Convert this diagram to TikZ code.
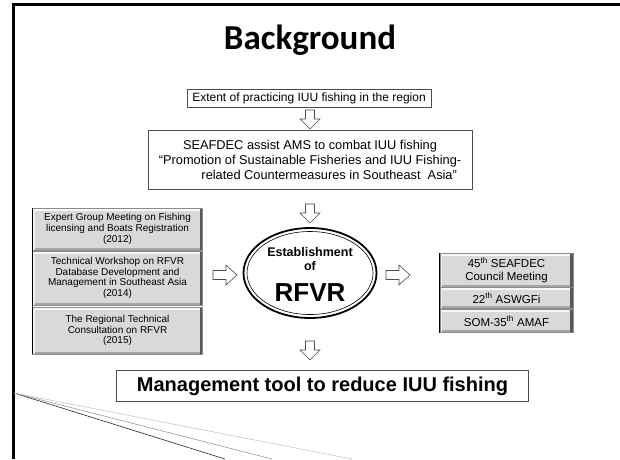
\documentclass[tikz,border=0pt]{standalone}
\usepackage{fontspec}
\setmainfont{Liberation Sans}
\newfontfamily\titlefont{Carlito}
\usetikzlibrary{shapes.geometric}
\definecolor{boxgray}{HTML}{D9D9D9}
\begin{document}
\begin{tikzpicture}[x=1pt,y=-1pt,
  plainbox/.style={draw=black!70, line width=0.6pt, fill=white, inner sep=0pt, align=center},
  bevel/.style={fill=boxgray, draw=black!45, line width=0.5pt, inner sep=0pt, align=center,
    font=\fontsize{10}{10.8}\selectfont,
    path picture={
      \fill[white!80!boxgray] (path picture bounding box.north west) rectangle ([yshift=-2.5pt]path picture bounding box.north east);
      \fill[black!35] ([yshift=2.5pt]path picture bounding box.south west) rectangle (path picture bounding box.south east);
      \fill[black!65] ([xshift=-3pt]path picture bounding box.north east) rectangle (path picture bounding box.south east);
      \fill[white!60!boxgray] (path picture bounding box.north west) rectangle ([xshift=2pt]path picture bounding box.south west);
    }},
  rbevel/.style={bevel, font=\fontsize{11.5}{13}\selectfont},
  downarr/.pic={\draw[black!70, line width=0.6pt, fill=white, line join=miter]
      (-4.5,0) -- (4.5,0) -- (4.5,9) -- (10,9) -- (0,19) -- (-10,9) -- (-4.5,9) -- cycle;},
  rightarr/.pic={\draw[black!70, line width=0.6pt, fill=white, line join=miter]
      (0,-4.5) -- (13,-4.5) -- (13,-10) -- (24,0) -- (13,10) -- (13,4.5) -- (0,4.5) -- cycle;},
  elltext/.style={font=\bfseries\fontsize{12.5}{15}\selectfont, anchor=base, inner sep=0pt}
]
\useasboundingbox (0,0) rectangle (620,459);
\fill[white] (0,0) rectangle (620,459);

% frame
\coordinate (ftr) at (620,4);
\coordinate (ftl) at (13,4);
\coordinate (fbl) at (13,459);
\draw[line width=3pt] (ftr) -- (ftl) -- (fbl);

% decorative lines
\coordinate (o) at (14,393);
\coordinate (e1) at (225,459);
\coordinate (e2) at (272,459);
\coordinate (e3) at (352,459);
\draw[black!85, line width=0.6pt] (o) -- (e1);
\draw[black!45, line width=0.5pt] (o) -- (e2);
\draw[black!25, line width=0.5pt] (o) -- (e3);

% title
\node[font=\titlefont\bfseries\fontsize{35}{40}\selectfont, anchor=base, inner sep=0pt] (title) at (310,49) {Background};

% top boxes
\node[plainbox, minimum width=244pt, minimum height=18pt, font=\fontsize{12}{13}\selectfont] (b1) at (309,98) {Extent of practicing IUU fishing in the region};
\pic at (310,110) {downarr};
\node[plainbox, minimum width=324pt, minimum height=59pt, font=\fontsize{12.8}{15}\selectfont] (b2) at (310,159.5)
  {SEAFDEC assist AMS to combat IUU fishing\\“Promotion of Sustainable Fisheries and IUU Fishing-\\\hspace*{3em}related Countermeasures in Southeast\ \ Asia”};
\pic at (310,204) {downarr};

% left stack
\node[bevel, minimum width=170pt, minimum height=42pt] (l1) at (117.5,229)
  {Expert Group Meeting on Fishing\\licensing and Boats Registration\\(2012)};
\node[bevel, minimum width=170pt, minimum height=54pt] (l2) at (117.5,278)
  {Technical Workshop on RFVR\\Database Development and\\Management in Southeast Asia\\(2014)};
\node[bevel, minimum width=170pt, minimum height=47pt] (l3) at (117.5,330.5)
  {The Regional Technical\\Consultation on RFVR\\(2015)};
\draw[black, line width=0.7pt] (l1.north west) -- (l3.south west);

\pic at (213,275) {rightarr};

% ellipse
\node[ellipse, draw, line width=1.8pt, minimum width=133pt, minimum height=90pt, inner sep=0pt] (est) at (310,273) {};
\draw[line width=0.6pt] (est.center) ellipse [x radius=63, y radius=41.5];
\node[elltext] (t1) at (310,256) {Establishment};
\node[elltext] (t2) at (310,270) {of};
\node[elltext, font=\bfseries\fontsize{26}{28}\selectfont] (t3) at (310,301) {RFVR};

\pic at (386,275) {rightarr};

% right stack
\node[rbevel, minimum width=133pt, minimum height=34pt] (r1) at (506.5,270)
  {45\textsuperscript{th} SEAFDEC\\Council Meeting};
\node[rbevel, minimum width=133pt, minimum height=21pt] (r2) at (506.5,298)
  {22\textsuperscript{th} ASWGFi};
\node[rbevel, minimum width=133pt, minimum height=23pt] (r3) at (506.5,321)
  {SOM-35\textsuperscript{th} AMAF};
\draw[black, line width=0.7pt] (r1.north west) -- (r3.south west);

\pic at (310,341) {downarr};

% bottom box
\node[plainbox, minimum width=412pt, minimum height=31pt, font=\bfseries\fontsize{20}{24}\selectfont] (mgmt) at (322.5,386) {Management tool to reduce IUU fishing};
\end{tikzpicture}
\end{document}
